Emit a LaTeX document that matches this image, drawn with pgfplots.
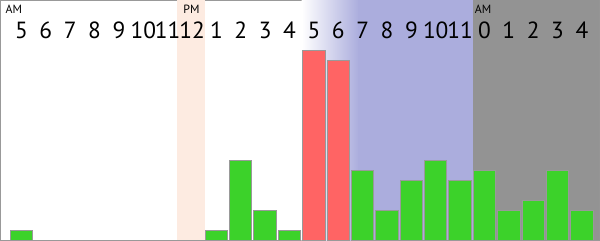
\documentclass[border=0pt]{standalone}
\usepackage{pgfplots}
\pgfplotsset{compat=1.18}
\usepackage{fontspec}
\setmainfont{PT Sans}
\definecolor{barg}{HTML}{3CD22A}
\definecolor{barr}{HTML}{FF6464}
\definecolor{bgblue}{HTML}{ABADDD}
\definecolor{bggray}{HTML}{939393}
\definecolor{peach}{HTML}{FDEBE1}
\definecolor{edge}{HTML}{999999}
\begin{document}
\begin{tikzpicture}
\begin{axis}[
 width=600bp, height=240bp, scale only axis,
 xmin=-0.86, xmax=23.72, ymin=0, ymax=24,
 ticks=none, axis line style={draw=edge, line width=1bp},
 clip=true,
]
% background bands
\addplot[draw=none, fill=peach] coordinates {(6.39,0)(7.54,0)(7.54,24)(6.39,24)} -- cycle;
\addplot[draw=none, left color=white, right color=bgblue, shading=axis] coordinates {(11.5,0)(13.85,0)(13.85,24)(11.5,24)} -- cycle;
\addplot[draw=none, fill=bgblue] coordinates {(13.83,0)(18.52,0)(18.52,24)(13.83,24)} -- cycle;
\addplot[draw=none, fill=bggray] coordinates {(18.52,0)(24,0)(24,24)(18.52,24)} -- cycle;
% bars
\addplot[ybar, bar width=0.92, fill=barg, draw=edge, line width=1bp] coordinates {
 (0,1) (8,1) (9,8) (10,3) (11,1) (14,7) (15,3) (16,6) (17,8) (18,6)
 (19,7) (20,3) (21,4) (22,7) (23,3)};
\addplot[ybar, bar width=0.92, fill=barr, draw=edge, line width=1bp] coordinates {
 (12,19) (13,18)};
% labels
\begin{scope}[every node/.style={anchor=base, inner sep=0pt, font=\fontsize{23.5}{24}\selectfont}]
\node at (axis cs:0,20.2) {5};
\node at (axis cs:1,20.2) {6};
\node at (axis cs:2,20.2) {7};
\node at (axis cs:3,20.2) {8};
\node at (axis cs:4,20.2) {9};
\node at (axis cs:5,20.2) {10};
\node at (axis cs:6,20.2) {11};
\node at (axis cs:7,20.2) {12};
\node at (axis cs:8,20.2) {1};
\node at (axis cs:9,20.2) {2};
\node at (axis cs:10,20.2) {3};
\node at (axis cs:11,20.2) {4};
\node at (axis cs:12,20.2) {5};
\node at (axis cs:13,20.2) {6};
\node at (axis cs:14,20.2) {7};
\node at (axis cs:15,20.2) {8};
\node at (axis cs:16,20.2) {9};
\node at (axis cs:17,20.2) {10};
\node at (axis cs:18,20.2) {11};
\node at (axis cs:19,20.2) {0};
\node at (axis cs:20,20.2) {1};
\node at (axis cs:21,20.2) {2};
\node at (axis cs:22,20.2) {3};
\node at (axis cs:23,20.2) {4};
\end{scope}
\begin{scope}[every node/.style={anchor=base west, inner sep=0pt, font=\fontsize{12}{12}\selectfont}]
\node at (axis cs:-0.66,22.65) {AM};
\node at (axis cs:6.64,22.65) {PM};
\node at (axis cs:18.6,22.65) {AM};
\end{scope}
\end{axis}
\end{tikzpicture}
\end{document}
